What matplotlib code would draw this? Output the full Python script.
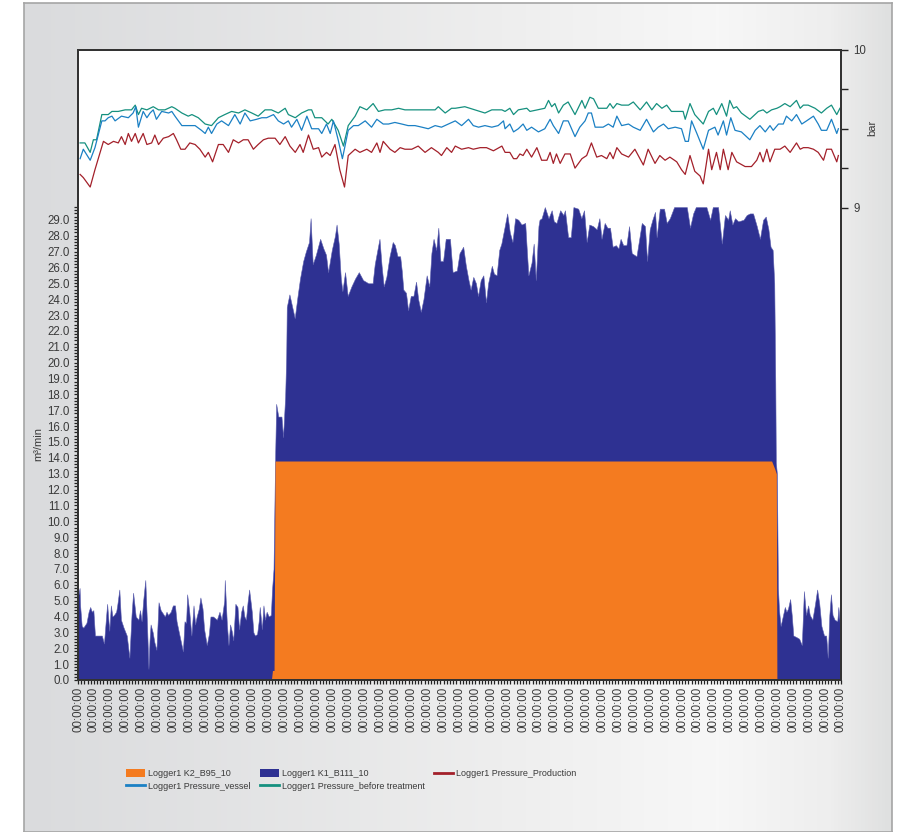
import numpy as np
import matplotlib.pyplot as plt
from matplotlib.ticker import MultipleLocator, FixedLocator, FixedFormatter
from matplotlib.colors import LinearSegmentedColormap
from matplotlib.patches import Patch
from matplotlib.lines import Line2D

plt.rcParams['font.family'] = ['Liberation Sans', 'DejaVu Sans']

# time axis in minutes (one label every 30 min over 24 h)
tick_labels = ['00:00:00'] * 49

# flow, m3/min - Logger1 K1_B111_10
k1_t = [0, 1, 3, 4, 7, 10, 16, 20, 23, 26, 29, 32, 38, 45, 49, 53, 55, 59, 62, 65, 68, 72, 74,
        78, 81, 86, 92, 97, 101, 104, 109, 114, 117, 120, 123, 127, 130, 133, 135, 137, 141, 144,
        148, 152, 156, 160, 164, 167, 170, 175, 179, 183, 186, 191, 198, 201, 204, 206, 210, 214,
        218, 221, 224, 228, 231, 235, 238, 243, 247, 250, 255, 262, 267, 271, 276, 277, 281, 284,
        287, 290, 293, 297, 301, 304, 308, 311, 314, 317, 320, 323, 328, 331, 334, 338, 341, 343,
        347, 350, 353, 356, 360, 364, 366, 369, 372, 374, 378, 384, 387, 391, 393, 394, 399, 403,
        409, 414, 419, 425, 430, 436, 439, 443, 449, 457, 463, 468, 472, 479, 485, 488, 492, 496,
        499, 504, 509, 516, 523, 530, 538, 548, 556, 560, 565, 569, 573, 577, 582, 588, 594, 598,
        603, 608, 611, 614, 619, 623, 628, 633, 638, 642, 647, 652, 658, 663, 667, 671, 676, 680,
        684, 689, 694, 702, 707, 715, 720, 727, 732, 737, 741, 746, 751, 755, 760, 765, 770, 774,
        781, 785, 790, 795, 799, 806, 810, 815, 820, 825, 831, 837, 844, 847, 850, 856, 860, 864,
        869, 871, 875, 881, 888, 894, 898, 903, 910, 916, 919, 925, 930, 935, 944, 950, 955, 960,
        965, 972, 979, 984, 988, 994, 999, 1004, 1009, 1015, 1020, 1024, 1029, 1035, 1040, 1045,
        1054, 1064, 1070, 1074, 1079, 1084, 1089, 1092, 1098, 1106, 1111, 1117, 1125, 1149, 1155,
        1161, 1166, 1186, 1193, 1198, 1208, 1215, 1221, 1227, 1230, 1235, 1240, 1246, 1256, 1262,
        1268, 1274, 1281, 1287, 1293, 1298, 1303, 1307, 1311, 1314, 1316, 1317, 1319, 1321, 1323,
        1326, 1330, 1334, 1337, 1340, 1344, 1347, 1350, 1356, 1361, 1366, 1370, 1374, 1378, 1381,
        1386, 1391, 1395, 1399, 1403, 1408, 1412, 1415, 1418, 1421, 1424, 1428, 1433, 1435, 1438,
        1440]
k1_q = [5.4, 5.4, 5.8, 4.7, 3.4, 3.3, 3.6, 4.3, 4.6, 4.3, 4.4, 2.8, 2.8, 2.8, 2.3, 4.0, 4.8, 3.1,
        4.7, 4.0, 4.1, 4.3, 4.7, 5.7, 3.8, 3.3, 2.8, 1.4, 4.1, 5.5, 4.0, 3.8, 4.4, 3.7, 5.0, 6.3,
        3.7, 0.7, 2.5, 3.5, 3.0, 2.4, 1.9, 4.9, 4.4, 4.2, 4.0, 4.3, 4.1, 4.3, 4.7, 4.7, 3.7, 2.9,
        1.8, 3.7, 3.6, 5.4, 4.3, 2.8, 4.7, 3.5, 4.0, 4.5, 5.2, 4.5, 3.2, 2.2, 2.9, 4.0, 4.0, 3.8,
        4.3, 3.8, 5.0, 6.3, 3.5, 2.2, 3.5, 3.1, 2.5, 4.8, 4.6, 3.2, 4.3, 4.7, 4.0, 3.8, 4.9, 5.7,
        4.3, 3.0, 2.8, 2.9, 3.7, 4.6, 3.2, 4.7, 3.8, 4.3, 4.0, 4.1, 5.6, 7.0, 14.0, 17.4, 16.6,
        16.6, 15.3, 17.9, 20.5, 23.5, 24.3, 23.7, 22.8, 24.1, 25.3, 26.4, 27.0, 27.6, 29.1, 26.2,
        26.8, 27.8, 27.2, 26.8, 25.7, 27.1, 28.0, 28.7, 27.5, 25.3, 24.5, 25.7, 24.2, 24.8, 25.3,
        25.7, 25.2, 25.0, 25.0, 26.2, 27.1, 27.8, 26.1, 24.8, 25.4, 26.7, 27.6, 27.4, 26.7, 26.7,
        25.8, 24.6, 24.4, 23.3, 24.2, 24.2, 25.1, 24.0, 23.2, 24.0, 25.5, 24.8, 26.9, 27.8, 27.1,
        28.5, 26.4, 26.4, 27.8, 27.8, 25.7, 25.8, 26.9, 27.3, 26.1, 25.2, 24.6, 25.4, 25.0, 24.2,
        25.2, 25.5, 23.8, 25.0, 26.1, 25.6, 25.5, 27.1, 27.5, 28.7, 29.4, 28.2, 27.6, 29.1, 29.0,
        28.7, 28.8, 27.1, 25.5, 26.3, 27.5, 25.2, 28.6, 29.0, 29.1, 29.8, 29.1, 29.6, 28.9, 28.8,
        29.6, 29.3, 29.6, 27.9, 27.9, 29.8, 29.7, 29.1, 29.6, 27.6, 28.7, 28.6, 28.4, 29.1, 27.8,
        28.8, 28.5, 28.5, 27.3, 27.4, 27.2, 27.8, 27.4, 27.4, 28.6, 26.9, 26.7, 28.8, 28.6, 26.4,
        28.4, 29.0, 29.5, 27.9, 29.7, 29.7, 28.8, 29.1, 29.8, 29.8, 28.5, 29.4, 29.8, 29.8, 29.0,
        29.8, 29.8, 27.5, 29.3, 29.0, 29.6, 28.7, 29.1, 28.9, 29.0, 29.3, 29.4, 29.4, 28.6, 27.8,
        29.0, 29.2, 28.4, 27.3, 27.1, 25.0, 18.7, 13.7, 13.0, 5.8, 4.4, 3.4, 4.0, 4.6, 4.3, 4.5,
        5.1, 4.1, 2.8, 2.7, 2.6, 2.2, 5.6, 4.1, 4.7, 4.1, 3.8, 4.8, 5.7, 4.8, 3.4, 2.8, 2.8, 1.4,
        4.1, 5.4, 4.1, 3.8, 3.7, 4.6, 3.5, 3.6]

# flow, m3/min - Logger1 K2_B95_10
k2_t = [0, 365, 367, 370, 372, 1309, 1315, 1318, 1319, 1440]
k2_q = [0.0, 0.0, 0.6, 0.6, 13.8, 13.8, 13.3, 13.0, 0.0, 0.0]

# pressure, bar - Logger1 Pressure_before treatment
pb_t = [4, 13, 23, 29, 35, 45, 57, 64, 76, 89, 101, 108, 114, 120, 130, 142, 152, 164, 177, 183,
        196, 208, 215, 227, 240, 252, 265, 277, 290, 303, 315, 328, 340, 353, 365, 378, 391, 397,
        410, 422, 435, 441, 447, 460, 472, 479, 491, 501, 510, 523, 532, 545, 557, 567, 579, 592,
        605, 617, 642, 674, 680, 693, 705, 712, 730, 749, 768, 781, 800, 806, 815, 822, 831, 847,
        853, 881, 888, 894, 900, 907, 916, 925, 938, 951, 957, 966, 973, 982, 998, 1004, 1010,
        1017, 1026, 1039, 1048, 1061, 1073, 1083, 1092, 1102, 1111, 1120, 1142, 1146, 1155, 1164,
        1180, 1190, 1199, 1205, 1215, 1224, 1230, 1237, 1243, 1252, 1268, 1284, 1293, 1300, 1309,
        1319, 1325, 1334, 1344, 1356, 1363, 1369, 1378, 1391, 1403, 1413, 1422, 1432, 1438]
pb_p = [9.41, 9.41, 9.35, 9.43, 9.43, 9.59, 9.59, 9.61, 9.61, 9.62, 9.62, 9.65, 9.59, 9.63, 9.62,
        9.64, 9.62, 9.62, 9.64, 9.63, 9.60, 9.58, 9.59, 9.57, 9.53, 9.52, 9.57, 9.59, 9.61, 9.60,
        9.62, 9.60, 9.58, 9.62, 9.62, 9.60, 9.63, 9.59, 9.57, 9.60, 9.62, 9.62, 9.57, 9.57, 9.53,
        9.56, 9.49, 9.39, 9.52, 9.58, 9.64, 9.62, 9.66, 9.61, 9.62, 9.62, 9.63, 9.62, 9.62, 9.62,
        9.64, 9.60, 9.63, 9.63, 9.64, 9.62, 9.60, 9.62, 9.62, 9.61, 9.63, 9.59, 9.62, 9.63, 9.61,
        9.63, 9.68, 9.64, 9.66, 9.60, 9.65, 9.67, 9.59, 9.68, 9.63, 9.70, 9.69, 9.63, 9.63, 9.66,
        9.63, 9.66, 9.65, 9.65, 9.67, 9.62, 9.67, 9.62, 9.66, 9.63, 9.65, 9.61, 9.61, 9.56, 9.66,
        9.59, 9.53, 9.61, 9.63, 9.59, 9.66, 9.58, 9.68, 9.63, 9.64, 9.60, 9.56, 9.61, 9.62, 9.60,
        9.62, 9.63, 9.64, 9.66, 9.64, 9.68, 9.63, 9.65, 9.65, 9.63, 9.60, 9.63, 9.65, 9.59, 9.63]

# pressure, bar - Logger1 Pressure_vessel
pv_t = [4, 10, 23, 32, 45, 51, 57, 64, 70, 82, 95, 104, 109, 114, 123, 130, 136, 142, 148, 158,
        171, 177, 183, 196, 208, 221, 233, 240, 246, 252, 262, 271, 284, 296, 306, 315, 325, 337,
        347, 356, 369, 378, 388, 397, 403, 413, 422, 432, 441, 454, 460, 469, 476, 482, 491, 499,
        510, 520, 529, 542, 548, 554, 564, 576, 586, 598, 611, 623, 636, 649, 661, 674, 686, 699,
        712, 724, 737, 746, 756, 768, 781, 793, 803, 806, 815, 822, 831, 840, 847, 856, 869, 881,
        891, 897, 907, 916, 925, 938, 947, 957, 963, 969, 976, 991, 1001, 1010, 1017, 1026, 1039,
        1048, 1061, 1073, 1086, 1095, 1105, 1114, 1127, 1139, 1146, 1152, 1158, 1168, 1180, 1190,
        1202, 1208, 1218, 1224, 1232, 1240, 1252, 1268, 1278, 1287, 1297, 1306, 1312, 1322, 1331,
        1337, 1347, 1356, 1366, 1375, 1388, 1397, 1403, 1413, 1422, 1432, 1435]
pv_p = [9.31, 9.37, 9.30, 9.38, 9.55, 9.55, 9.57, 9.58, 9.55, 9.58, 9.57, 9.60, 9.64, 9.51, 9.61,
        9.57, 9.60, 9.62, 9.56, 9.61, 9.60, 9.61, 9.58, 9.52, 9.52, 9.52, 9.49, 9.47, 9.51, 9.47,
        9.53, 9.55, 9.52, 9.59, 9.53, 9.60, 9.55, 9.56, 9.57, 9.57, 9.59, 9.55, 9.53, 9.55, 9.51,
        9.56, 9.49, 9.58, 9.50, 9.50, 9.47, 9.53, 9.47, 9.55, 9.43, 9.31, 9.49, 9.52, 9.52, 9.55,
        9.53, 9.51, 9.56, 9.53, 9.53, 9.54, 9.53, 9.52, 9.52, 9.51, 9.50, 9.52, 9.51, 9.53, 9.55,
        9.52, 9.56, 9.52, 9.51, 9.52, 9.51, 9.52, 9.55, 9.50, 9.53, 9.48, 9.50, 9.53, 9.49, 9.51,
        9.48, 9.50, 9.56, 9.52, 9.47, 9.55, 9.55, 9.45, 9.51, 9.55, 9.60, 9.60, 9.51, 9.51, 9.53,
        9.51, 9.58, 9.52, 9.53, 9.51, 9.49, 9.56, 9.48, 9.51, 9.53, 9.50, 9.51, 9.50, 9.42, 9.42,
        9.55, 9.47, 9.37, 9.49, 9.51, 9.46, 9.55, 9.46, 9.57, 9.49, 9.48, 9.43, 9.49, 9.52, 9.48,
        9.52, 9.49, 9.53, 9.53, 9.58, 9.55, 9.59, 9.53, 9.55, 9.58, 9.53, 9.49, 9.49, 9.56, 9.47,
        9.50]

# pressure, bar - Logger1 Pressure_Production
pp_t = [4, 10, 23, 32, 48, 57, 67, 76, 82, 89, 95, 101, 108, 114, 123, 130, 139, 145, 152, 161,
        171, 180, 186, 194, 202, 211, 221, 230, 240, 246, 254, 265, 274, 284, 293, 303, 312, 321,
        331, 340, 350, 359, 372, 381, 391, 400, 410, 419, 425, 435, 444, 454, 460, 469, 476, 485,
        494, 503, 510, 523, 532, 545, 554, 564, 570, 576, 589, 598, 608, 617, 630, 642, 655, 667,
        680, 686, 696, 705, 712, 724, 737, 746, 759, 771, 784, 800, 806, 815, 822, 828, 834, 840,
        847, 856, 866, 875, 885, 891, 897, 903, 910, 919, 929, 938, 951, 960, 969, 979, 988, 998,
        1004, 1010, 1017, 1026, 1039, 1051, 1067, 1076, 1089, 1098, 1108, 1117, 1130, 1139, 1146,
        1155, 1164, 1174, 1180, 1190, 1196, 1205, 1212, 1218, 1227, 1234, 1243, 1259, 1271, 1281,
        1287, 1293, 1300, 1306, 1315, 1325, 1334, 1344, 1356, 1363, 1369, 1378, 1388, 1397, 1407,
        1413, 1422, 1432, 1435]
pp_p = [9.21, 9.19, 9.13, 9.24, 9.42, 9.40, 9.42, 9.41, 9.45, 9.40, 9.47, 9.42, 9.47, 9.41, 9.47,
        9.40, 9.41, 9.46, 9.40, 9.44, 9.45, 9.47, 9.43, 9.37, 9.37, 9.41, 9.40, 9.37, 9.32, 9.35,
        9.29, 9.40, 9.40, 9.35, 9.43, 9.41, 9.43, 9.43, 9.37, 9.40, 9.43, 9.44, 9.44, 9.40, 9.45,
        9.39, 9.35, 9.40, 9.35, 9.46, 9.37, 9.38, 9.32, 9.35, 9.33, 9.40, 9.24, 9.13, 9.33, 9.37,
        9.35, 9.37, 9.35, 9.41, 9.35, 9.42, 9.37, 9.35, 9.38, 9.37, 9.37, 9.39, 9.35, 9.38, 9.35,
        9.33, 9.38, 9.35, 9.39, 9.37, 9.38, 9.37, 9.38, 9.38, 9.36, 9.39, 9.35, 9.35, 9.31, 9.31,
        9.34, 9.33, 9.37, 9.32, 9.38, 9.30, 9.30, 9.35, 9.28, 9.34, 9.28, 9.34, 9.34, 9.25, 9.31,
        9.33, 9.41, 9.32, 9.33, 9.31, 9.35, 9.31, 9.38, 9.34, 9.32, 9.37, 9.27, 9.37, 9.28, 9.33,
        9.30, 9.32, 9.29, 9.24, 9.21, 9.33, 9.23, 9.20, 9.15, 9.37, 9.24, 9.35, 9.24, 9.37, 9.24,
        9.35, 9.29, 9.26, 9.26, 9.30, 9.35, 9.29, 9.37, 9.29, 9.37, 9.37, 9.39, 9.35, 9.41, 9.37,
        9.38, 9.38, 9.37, 9.35, 9.30, 9.37, 9.37, 9.29, 9.33]

c_k2 = '#f47b20'
c_k1 = '#2e3192'
c_prod = '#a3202a'
c_vessel = '#1b80c4'
c_before = '#15907f'
txt = '#3a3a3a'

fig = plt.figure(figsize=(9.08, 8.32), dpi=100)
fig.patch.set_facecolor('white')

# grey panel behind the chart
bg = fig.add_axes([24 / 908, 0, 868 / 908, 829 / 832], zorder=-10)
panel = LinearSegmentedColormap.from_list(
    'panel', [(0, '#dadbdd'), (0.55, '#eeeeee'), (0.8, '#f7f7f7'), (0.93, '#eeeeee'), (1, '#dfe0e0')])
bg.imshow(np.linspace(0, 1, 256)[None, :], aspect='auto', cmap=panel, extent=[0, 1, 0, 1])
bg.set_xticks([])
bg.set_yticks([])
for s in bg.spines.values():
    s.set_color('#a5a5a5')
    s.set_linewidth(1.2)

ax = fig.add_axes([78 / 908, 152 / 832, 763 / 908, 630 / 832])
ax.set_facecolor('white')
ax.fill_between(k1_t, 0, k1_q, color=c_k1, lw=0.4, edgecolor='#5c5fae')
ax.fill_between(k2_t, 0, k2_q, color=c_k2, lw=0)
ax.set_xlim(0, 1440)
ax.set_ylim(0, 39.7)

ax.yaxis.set_major_locator(FixedLocator(np.arange(0, 30)))
ax.yaxis.set_minor_locator(FixedLocator(np.arange(0, 30, 0.2)))
ax.yaxis.set_major_formatter(FixedFormatter(['%.1f' % v for v in range(30)]))
ax.xaxis.set_minor_locator(MultipleLocator(6))
ax.set_xticks(np.arange(0, 1441, 30))
ax.set_xticklabels(tick_labels, rotation=90, va='top', ha='center')
ax.tick_params(axis='both', which='both', direction='out', length=3, width=0.9, color='#222222',
               labelsize=8.3, labelcolor=txt)
ax.tick_params(axis='y', pad=3)
ax.tick_params(axis='x', pad=2)
ax.set_ylabel('m³/min', fontsize=8, color=txt)
ax.yaxis.set_label_coords(-0.046, 0.375)
for s in ax.spines.values():
    s.set_color('#333333')
    s.set_linewidth(1.4)

ax2 = ax.twinx()
ax2.plot(pb_t, pb_p, color=c_before, lw=0.9)
ax2.plot(pv_t, pv_p, color=c_vessel, lw=0.9)
ax2.plot(pp_t, pp_p, color=c_prod, lw=0.9)
ax2.set_ylim(6, 10)
ax2.set_yticks([9, 9.25, 9.5, 9.75, 10])
ax2.set_yticklabels(['9', '', '', '', '10'])
ax2.tick_params(axis='y', direction='out', length=5, width=1.0, color='#222222',
                labelsize=8.3, labelcolor=txt, pad=4)
ax2.set_ylabel('bar', fontsize=8, color=txt)
ax2.yaxis.set_label_coords(1.034, 0.876)
for s in ax2.spines.values():
    s.set_color('#333333')
    s.set_linewidth(1.4)

handles = [Patch(facecolor=c_k2, edgecolor='none'),
           Line2D([], [], color=c_vessel, lw=2),
           Patch(facecolor=c_k1, edgecolor='none'),
           Line2D([], [], color=c_before, lw=2),
           Line2D([], [], color=c_prod, lw=2)]
labels = ['Logger1 K2_B95_10', 'Logger1 Pressure_vessel',
          'Logger1 K1_B111_10', 'Logger1 Pressure_before treatment',
          'Logger1 Pressure_Production']
leg = fig.legend(handles, labels, loc='upper left', bbox_to_anchor=(126 / 908, 1 - 769 / 832),
                 ncol=3, frameon=False, fontsize=6.5, handlelength=2.15, handleheight=1.0,
                 handletextpad=0.3, columnspacing=1.0, labelspacing=0.4,
                 borderaxespad=0, borderpad=0)
for t in leg.get_texts():
    t.set_color(txt)

fig.savefig('out.png', dpi=100)
